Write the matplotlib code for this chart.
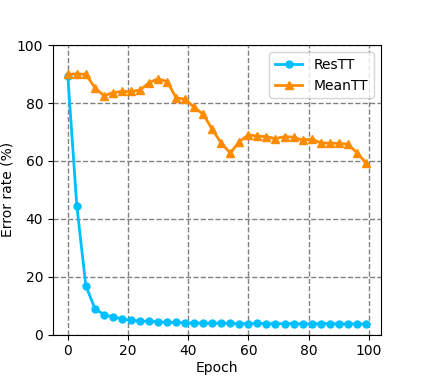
import matplotlib
matplotlib.use("Agg")
import matplotlib.pyplot as plt
import numpy as np

epochs = list(range(0, 100, 3))
res_tt = [89.5, 44.5, 16.9, 9.0, 6.9, 6.1, 5.5, 4.9, 4.7, 4.6, 4.5, 4.2, 4.2, 4.1,
          4.0, 4.0, 3.9, 4.0, 3.9, 3.8, 3.8, 3.9, 3.8, 3.8, 3.8, 3.8, 3.7, 3.7,
          3.8, 3.8, 3.7, 3.7, 3.7, 3.6]
mean_tt = [89.9, 90.1, 89.9, 85.3, 82.5, 83.6, 84.0, 84.0, 84.5, 87.0, 88.4, 87.4,
           81.8, 81.3, 78.5, 76.1, 70.9, 66.1, 62.7, 66.7, 69.0, 68.6, 68.4, 67.7,
           68.4, 68.2, 67.2, 67.5, 66.3, 66.1, 66.1, 65.8, 62.9, 59.4]
y_ticks = [0, 20, 40, 60, 80, 100]

fig = plt.figure(figsize=(4.23, 3.76), dpi=100)
ax = fig.add_subplot(111)
ax.plot(epochs, res_tt, color='#00BFFF', marker='o', markersize=5, linewidth=2, label='ResTT')
ax.plot(epochs, mean_tt, color='#FF8C00', marker='^', markersize=6, linewidth=2, label='MeanTT')
ax.set_ylim(0, 100)
ax.set_yticks(y_ticks)
ax.set_xticks([0, 20, 40, 60, 80, 100])
ax.grid(True, linestyle='--', color='gray', linewidth=1)
ax.set_xlabel('Epoch', labelpad=2)
ax.set_ylabel('Error rate (%)', labelpad=2)
ax.legend(loc='upper right')
fig.savefig('out.png', dpi=100)
